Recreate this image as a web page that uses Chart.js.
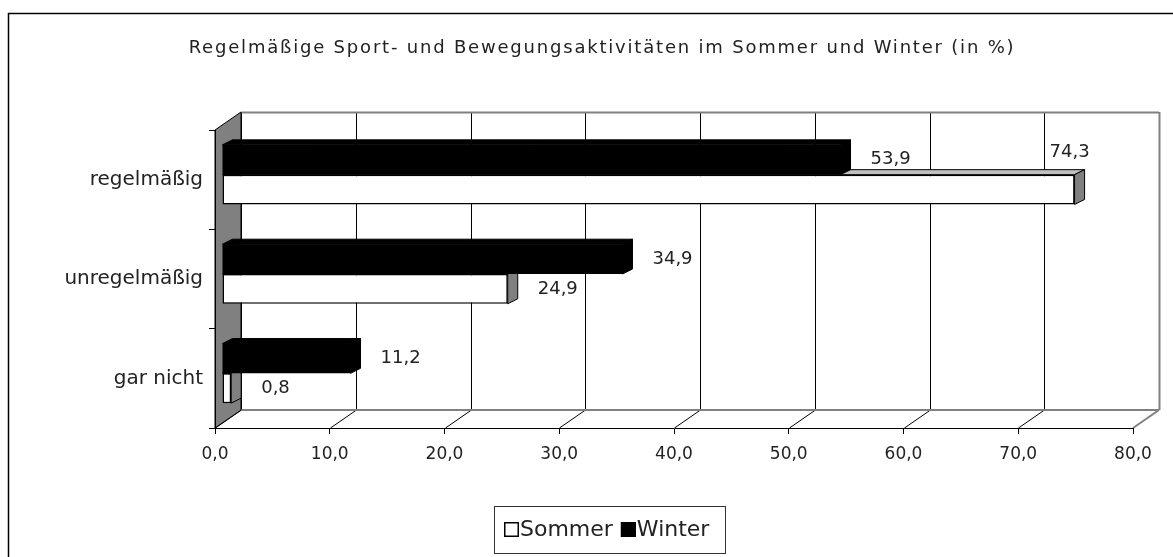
<!DOCTYPE html>
<html lang="de">
<head>
<meta charset="utf-8">
<title>Sport- und Bewegungsaktivitäten</title>
<script src="https://cdn.jsdelivr.net/npm/chart.js@4.4.1/dist/chart.umd.min.js"></script>
<style>
    html, body { margin: 0; padding: 0; background: #fff; }
    .wrap { position: relative; width: 1173px; height: 557px; }
</style>
</head>
<body>
<div class="wrap"><canvas id="chartSport"></canvas></div>
<script>
// 1. DATEN
const titel = 'Regelmäßige Sport- und Bewegungsaktivitäten im Sommer und Winter (in %)';
const kategorien = ['regelmäßig', 'unregelmäßig', 'gar nicht'];
const werteSommer = [74.3, 24.9, 0.8];
const werteWinter = [53.9, 34.9, 11.2];
const achseTicks = [0, 10, 20, 30, 40, 50, 60, 70, 80];

// 2. STIL / 3D-GEOMETRIE
const SCHRIFT = '"DejaVu Sans", sans-serif';
const WAND = { dx: 26, dy: -18 };          // Tiefe der Rückwand
const BALKEN_VERSATZ = { dx: 7, dy: -5 };  // Balken sitzen mitten im Raum
const BALKEN_TIEFE = { dx: 10, dy: -5 };
const GRAU = '#808080';

const fmt = v => Number(v).toFixed(1).replace('.', ',');

// Serien: Winter oben (Index 0), Sommer darunter
const serien = [
    { name: 'Winter', werte: werteWinter, front: '#000', oben: '#000', seite: '#000', rand: '#000' },
    { name: 'Sommer', werte: werteSommer, front: '#fff', oben: '#c0c0c0', seite: GRAU, rand: '#000' }
];

function poly(ctx, pts, fill, stroke, lw) {
    ctx.beginPath();
    ctx.moveTo(pts[0][0], pts[0][1]);
    for (let i = 1; i < pts.length; i++) ctx.lineTo(pts[i][0], pts[i][1]);
    ctx.closePath();
    if (fill) { ctx.fillStyle = fill; ctx.fill(); }
    if (stroke) { ctx.strokeStyle = stroke; ctx.lineWidth = lw || 1; ctx.stroke(); }
}

function line(ctx, x1, y1, x2, y2, color, lw) {
    ctx.beginPath();
    ctx.moveTo(x1, y1);
    ctx.lineTo(x2, y2);
    ctx.strokeStyle = color;
    ctx.lineWidth = lw || 1;
    ctx.stroke();
}

// 3. PLUGIN: Rahmen, Titel, Wände, Balken-Seiten, Beschriftung, Legende
const raum3d = {
    id: 'raum3d',
    beforeDraw(chart) {
        const ctx = chart.ctx;
        const { left, right, top, bottom } = chart.chartArea;
        const xs = chart.scales.x;
        ctx.save();
        ctx.fillStyle = '#fff';
        ctx.fillRect(0, 0, chart.width, chart.height);

        // äußerer Rahmen (rechts/unten außerhalb des Bildes)
        ctx.strokeStyle = '#000';
        ctx.lineWidth = 1.5;
        ctx.strokeRect(8.5, 13.5, chart.width + 20, chart.height + 20);

        // Titel (etwas gesperrt, das Original ist eine breite Schrift)
        ctx.fillStyle = '#222';
        ctx.font = '18px ' + SCHRIFT;
        ctx.letterSpacing = '1.8px';
        ctx.textAlign = 'center';
        ctx.textBaseline = 'middle';
        ctx.fillText(titel, 602, 48);
        ctx.letterSpacing = '0px';

        // Gitterlinien an der Rückwand + Diagonalen am Boden
        xs.ticks.forEach((t, i) => {
            const px = Math.round(xs.getPixelForValue(t.value)) + 0.5;
            const last = i === xs.ticks.length - 1;
            line(ctx, px + WAND.dx, top + WAND.dy, px + WAND.dx, bottom + WAND.dy, last ? GRAU : '#000', last ? 2 : 1);
            if (!last) line(ctx, px, bottom, px + WAND.dx, bottom + WAND.dy, '#000', 1);
        });

        // Kanten der Rückwand und des Bodens
        line(ctx, left + WAND.dx, top + WAND.dy + 0.5, right + WAND.dx, top + WAND.dy + 0.5, GRAU, 2);
        line(ctx, left + WAND.dx, bottom + WAND.dy, right + WAND.dx, bottom + WAND.dy, GRAU, 2);
        line(ctx, right, bottom, right + WAND.dx, bottom + WAND.dy, GRAU, 2);

        // linke Seitenwand
        poly(ctx, [[left, top], [left + WAND.dx, top + WAND.dy], [left + WAND.dx, bottom + WAND.dy], [left, bottom]], GRAU, '#000', 1);
        ctx.restore();
    },
    beforeDatasetsDraw(chart) {
        const ctx = chart.ctx;
        ctx.save();
        ctx.translate(BALKEN_VERSATZ.dx, BALKEN_VERSATZ.dy);
        // Oberseite und Stirnseite: erst Sommer, dann Winter
        for (let d = serien.length - 1; d >= 0; d--) {
            const s = serien[d];
            chart.getDatasetMeta(d).data.forEach(el => {
                const { x, y, base, height } = el.getProps(['x', 'y', 'base', 'height'], true);
                const l = Math.min(x, base), r = Math.max(x, base);
                const t = y - height / 2, b = y + height / 2;
                const bx = BALKEN_TIEFE.dx, by = BALKEN_TIEFE.dy;
                poly(ctx, [[l, t], [l + bx, t + by], [r + bx, t + by], [r, t]], s.oben, s.rand, 1);
                poly(ctx, [[r, t], [r + bx, t + by], [r + bx, b + by], [r, b]], s.seite, s.rand, 1);
            });
        }
    },
    afterDatasetsDraw(chart) {
        const ctx = chart.ctx;
        // Werte rechts neben den Balken (noch im verschobenen Koordinatensystem)
        ctx.font = '18px ' + SCHRIFT;
        ctx.fillStyle = '#222';
        ctx.textBaseline = 'middle';
        serien.forEach((s, d) => {
            chart.getDatasetMeta(d).data.forEach((el, i) => {
                const { x, y, base, height } = el.getProps(['x', 'y', 'base', 'height'], true);
                const r = Math.max(x, base);
                const txt = fmt(s.werte[i]);
                const w = ctx.measureText(txt).width;
                let lx = r + BALKEN_TIEFE.dx + 20;
                if (lx + w > chart.chartArea.right) {
                    ctx.textAlign = 'center';
                    ctx.fillText(txt, r - 5, y - height / 2 - 22);
                } else {
                    ctx.textAlign = 'left';
                    ctx.fillText(txt, lx, y);
                }
            });
        });
        ctx.restore();
    },
    afterDraw(chart) {
        const ctx = chart.ctx;
        ctx.save();
        // Legende mit Rahmen, Reihenfolge Sommer, Winter
        const bx = 494, by = 506, bw = 231, bh = 47;
        ctx.strokeStyle = '#333';
        ctx.lineWidth = 1;
        ctx.strokeRect(bx + 0.5, by + 0.5, bw, bh);
        ctx.font = '22px ' + SCHRIFT;
        ctx.textAlign = 'left';
        ctx.textBaseline = 'middle';
        let cx = bx + 10;
        const cy = by + bh / 2;
        [serien[1], serien[0]].forEach(s => {
            ctx.fillStyle = s.front;
            ctx.fillRect(cx, cy - 7.5, 15, 15);
            ctx.strokeStyle = '#000';
            ctx.lineWidth = 1.5;
            ctx.strokeRect(cx + 0.75, cy - 6.75, 13.5, 13.5);
            ctx.fillStyle = '#222';
            ctx.fillText(s.name, cx + 16, cy + 1);
            cx += 16 + ctx.measureText(s.name).width + 8;
        });
        ctx.restore();
    }
};

// 4. CHART
const ctx = document.getElementById('chartSport').getContext('2d');
new Chart(ctx, {
    type: 'bar',
    data: {
        labels: kategorien,
        datasets: serien.map(s => ({
            label: s.name,
            data: s.werte,
            backgroundColor: s.front,
            borderColor: s.rand,
            borderWidth: s.name === 'Sommer' ? 1.5 : 0,
            borderSkipped: false,
            categoryPercentage: 0.6,
            barPercentage: 1.0
        }))
    },
    options: {
        indexAxis: 'y',
        responsive: true,
        maintainAspectRatio: false,
        animation: false,
        layout: { padding: { left: 0, right: 40, top: 130, bottom: 69 } },
        plugins: {
            legend: { display: false },
            title: { display: false },
            tooltip: { enabled: false }
        },
        scales: {
            x: {
                type: 'linear',
                min: achseTicks[0],
                max: achseTicks[achseTicks.length - 1],
                afterBuildTicks: s => { s.ticks = achseTicks.map(v => ({ value: v })); },
                afterFit: s => { s.height = 60; },
                grid: { drawOnChartArea: false, tickLength: 6, color: '#000' },
                border: { display: true, color: '#000', width: 1 },
                ticks: { callback: v => fmt(v), color: '#222', padding: 10, font: { family: SCHRIFT, size: 17 } }
            },
            y: {
                type: 'category',
                afterFit: s => { s.width = 215; },
                grid: { drawOnChartArea: false, offset: true, tickLength: 6, color: '#000' },
                border: { display: true, color: '#000', width: 1 },
                ticks: { color: '#222', padding: 6, font: { family: SCHRIFT, size: 20 } }
            }
        }
    },
    plugins: [raum3d]
});
</script>
</body>
</html>
